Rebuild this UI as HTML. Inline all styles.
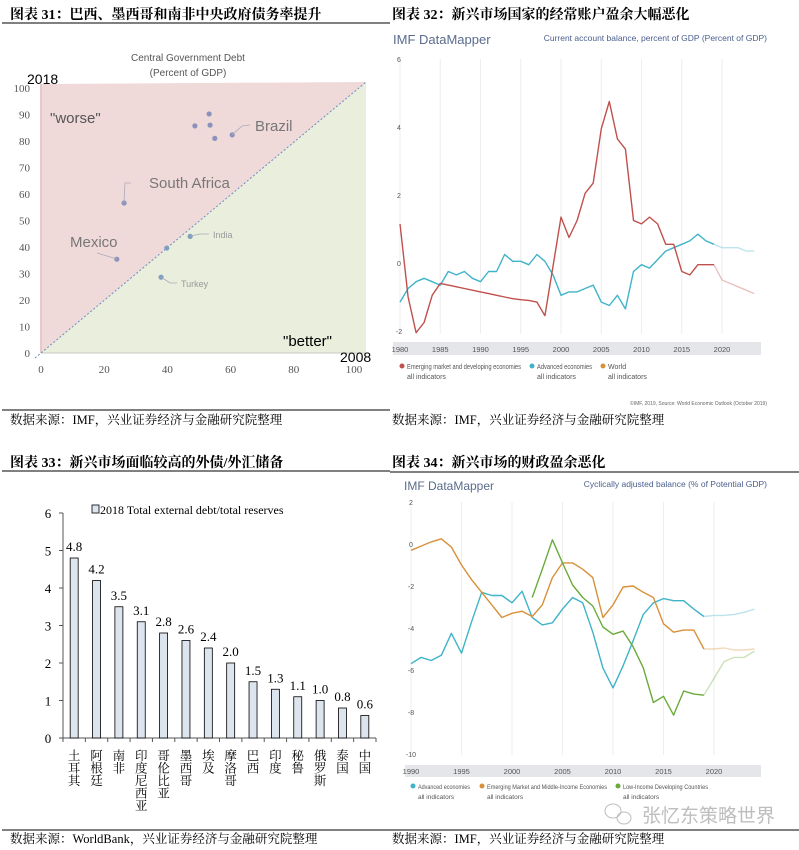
<!DOCTYPE html>
<html><head><meta charset="utf-8">
<style>
html,body{margin:0;padding:0;background:#fff;}
svg{display:block;font-family:"Liberation Sans","Noto Sans CJK SC",sans-serif;}
.ttl{font-family:"Liberation Serif","Noto Serif CJK SC",serif;font-weight:bold;font-size:14px;fill:#000;}
.src{font-family:"Liberation Serif","Noto Serif CJK SC",serif;font-size:12.5px;fill:#000;}
</style></head>
<body>
<svg id="root" width="799" height="850" viewBox="0 0 799 850" xmlns="http://www.w3.org/2000/svg">
<!-- Chart 31 -->
<g>
<text class="ttl" x="10" y="19">图表 31：巴西、墨西哥和南非中央政府债务率提升</text>
<line x1="2" y1="23" x2="390" y2="23" stroke="#000" stroke-width="1"/>
<polygon points="41,353 41,84 366,82" fill="#f0d9d9"/>
<polygon points="41,353 366,82 366,353" fill="#e9eedd"/>
<line x1="41" y1="84" x2="41" y2="353" stroke="#e8c8c8" stroke-width="2"/>
<line x1="41" y1="353" x2="366" y2="353" stroke="#c8c8c8" stroke-width="1"/>
<line x1="35" y1="358" x2="366" y2="82" stroke="#6a8fc0" stroke-width="1" stroke-dasharray="2,2"/>
<text x="188" y="61" font-size="10" fill="#555" text-anchor="middle">Central Government Debt</text>
<text x="188" y="76" font-size="10" fill="#555" text-anchor="middle">(Percent of GDP)</text>
<text x="27" y="84" font-size="14" fill="#000">2018</text>
<text x="340" y="362" font-size="14" fill="#000">2008</text>
<text x="50" y="123" font-size="15" fill="#555">"worse"</text>
<text x="283" y="346" font-size="15" fill="#000">"better"</text>
<g id="c31axes"></g>
<g id="c31pts"></g>
<text x="255" y="131" font-size="15" fill="#777">Brazil</text>
<text x="149" y="188" font-size="15" fill="#777">South Africa</text>
<text x="70" y="247" font-size="15" fill="#777">Mexico</text>
<text x="213" y="238" font-size="9" fill="#999">India</text>
<text x="181" y="287" font-size="9" fill="#999">Turkey</text>
<polyline points="232,135 242,126 250,125" fill="none" stroke="#aab" stroke-width="0.8"/>
<polyline points="124,203 125,183 131,183" fill="none" stroke="#aab" stroke-width="0.8"/>
<polyline points="117,259 97,253" fill="none" stroke="#aab" stroke-width="0.8"/>
<polyline points="190,236 200,234 209,234" fill="none" stroke="#aab" stroke-width="0.8"/>
<polyline points="161,277 170,283 177,283" fill="none" stroke="#aab" stroke-width="0.8"/>
<line x1="2" y1="410" x2="390" y2="410" stroke="#000"/>
<text class="src" x="10" y="424">数据来源：IMF，兴业证券经济与金融研究院整理</text>
</g>

<!-- Chart 32 -->
<g>
<text class="ttl" x="392" y="19">图表 32：新兴市场国家的经常账户盈余大幅恶化</text>
<text x="393" y="44" font-size="13" fill="#5a6b8c">IMF DataMapper</text>
<text x="767" y="41" font-size="8.5" fill="#4a5e8e" text-anchor="end">Current account balance, percent of GDP (Percent of GDP)</text>
<rect x="393" y="342" width="368" height="13" fill="#e4e6ea"/>
<g id="c32grid"></g><g id="c32lines"></g>
<circle cx="402" cy="366" r="2.5" fill="#c0504d"/><text x="407" y="369" font-size="7" fill="#555" textLength="114" lengthAdjust="spacingAndGlyphs">Emerging market and developing economies</text><text x="407" y="379" font-size="7" fill="#555">all indicators</text>
<circle cx="532" cy="366" r="2.5" fill="#3fb3c8"/><text x="537" y="369" font-size="7" fill="#555" textLength="55" lengthAdjust="spacingAndGlyphs">Advanced economies</text><text x="537" y="379" font-size="7" fill="#555">all indicators</text>
<circle cx="603" cy="366" r="2.5" fill="#d8913a"/><text x="608" y="369" font-size="7" fill="#555">World</text><text x="608" y="379" font-size="7" fill="#555">all indicators</text>
<text x="767" y="405" font-size="5" fill="#666" text-anchor="end">©IMF, 2019, Source: World Economic Outlook (October 2019)</text>
<text class="src" x="392" y="424">数据来源：IMF，兴业证券经济与金融研究院整理</text>
</g>

<!-- Chart 33 -->
<g>
<text class="ttl" x="10" y="467">图表 33：新兴市场面临较高的外债/外汇储备</text>
<line x1="2" y1="471" x2="390" y2="471" stroke="#000"/>
<rect x="92" y="505" width="7" height="8" fill="#dce4ee" stroke="#000" stroke-width="0.8"/>
<text x="100" y="514" font-size="12" font-family="Liberation Serif, serif" fill="#000">2018 Total external debt/total reserves</text>
<g id="c33"></g>
<line x1="2" y1="830" x2="390" y2="830" stroke="#000"/>
<text class="src" x="10" y="843">数据来源：WorldBank，兴业证券经济与金融研究院整理</text>
</g>

<!-- Chart 34 -->
<g>
<text class="ttl" x="392" y="467">图表 34：新兴市场的财政盈余恶化</text>
<line x1="390" y1="472" x2="799" y2="472" stroke="#000"/>
<text x="404" y="490" font-size="12" fill="#5a6b8c">IMF DataMapper</text>
<text x="767" y="487" font-size="8.5" fill="#4a5e8e" text-anchor="end">Cyclically adjusted balance (% of Potential GDP)</text>
<rect x="405" y="765" width="356" height="12" fill="#e4e6ea"/>
<g id="c34grid"></g><g id="c34lines"></g>
<circle cx="413" cy="786" r="2.5" fill="#3fb3c8"/><text x="418" y="789" font-size="6.5" fill="#555" textLength="52" lengthAdjust="spacingAndGlyphs">Advanced economies</text><text x="418" y="799" font-size="6.5" fill="#555">all indicators</text>
<circle cx="482" cy="786" r="2.5" fill="#d8913a"/><text x="487" y="789" font-size="6.5" fill="#555" textLength="120" lengthAdjust="spacingAndGlyphs">Emerging Market and Middle-Income Economies</text><text x="487" y="799" font-size="6.5" fill="#555">all indicators</text>
<circle cx="618" cy="786" r="2.5" fill="#6aaa3a"/><text x="623" y="789" font-size="6.5" fill="#555" textLength="85" lengthAdjust="spacingAndGlyphs">Low-Income Developing Countries</text><text x="623" y="799" font-size="6.5" fill="#555">all indicators</text>
<g opacity="0.55">
<ellipse cx="613" cy="811" rx="8" ry="7" fill="none" stroke="#888"/>
<ellipse cx="624" cy="818" rx="7" ry="6" fill="none" stroke="#888"/>
<text x="642" y="822" font-size="19" fill="#888" font-family="Noto Sans CJK SC, sans-serif">张忆东策略世界</text>
</g>
<line x1="390" y1="830" x2="799" y2="830" stroke="#000"/>
<text class="src" x="392" y="843">数据来源：IMF，兴业证券经济与金融研究院整理</text>
</g>
</svg>
<script>
// ---------- Chart 31 data ----------
const c31DebtX2008 = [48.7, 53.2, 53.5, 55, 60.5, 26.3, 24, 39.8, 47.2, 38];
const c31DebtY2018 = [85.7, 90.2, 86, 81, 82.3, 56.6, 35.4, 39.6, 44, 28.6];
const c31PointNames = ['brazil-point-1','brazil-point-2','brazil-point-3','brazil-point-4','brazil-point-5','south-africa-point','mexico-point','point-40','india-point','turkey-point'];
const c31Ticks = [0,10,20,30,40,50,60,70,80,90,100];
const c31XTicks = [0,20,40,60,80,100];
// ---------- Chart 32 data ----------
const c32Years = [];
for (let y = 1980; y <= 2024; y++) c32Years.push(y);
const c32Emerging = [1.15,-1.0,-2.05,-1.75,-0.95,-0.6,-0.65,-0.7,-0.75,-0.8,-0.85,-0.9,-0.95,-1.0,-1.05,-1.08,-1.1,-1.15,-1.55,-0.1,1.35,0.75,1.25,2.05,2.35,3.95,4.75,3.65,3.35,1.25,1.15,1.35,1.15,0.55,0.55,-0.25,-0.35,-0.05,-0.05,-0.05,-0.5,-0.6,-0.7,-0.8,-0.9];
const c32Advanced = [-1.15,-0.75,-0.55,-0.45,-0.55,-0.65,-0.25,-0.35,-0.25,-0.45,-0.55,-0.25,-0.25,0.25,0.05,0.05,-0.05,0.25,0.05,-0.35,-0.95,-0.85,-0.85,-0.75,-0.65,-1.15,-1.25,-0.95,-1.35,-0.25,-0.05,-0.15,0.1,0.35,0.45,0.55,0.65,0.85,0.65,0.55,0.45,0.45,0.45,0.35,0.35];
const c32YTicks = [6,4,2,0,-2];
const c32XTicks = [1980,1985,1990,1995,2000,2005,2010,2015,2020];
// ---------- Chart 33 data ----------
const c33Countries = ['土耳其','阿根廷','南非','印度尼西亚','哥伦比亚','墨西哥','埃及','摩洛哥','巴西','印度','秘鲁','俄罗斯','泰国','中国'];
const c33Values = [4.8,4.2,3.5,3.1,2.8,2.6,2.4,2.0,1.5,1.3,1.1,1.0,0.8,0.6];
const c33YTicks = [0,1,2,3,4,5,6];
// ---------- Chart 34 data ----------
const c34Years = [];
for (let y = 1990; y <= 2024; y++) c34Years.push(y);
const c34Advanced = [-5.7,-5.4,-5.55,-5.3,-4.25,-5.2,-3.7,-2.3,-2.45,-2.45,-2.8,-2.25,-3.5,-3.85,-3.75,-3.1,-2.55,-2.8,-4.2,-5.9,-6.85,-5.8,-4.6,-3.35,-2.8,-2.6,-2.7,-2.7,-3.1,-3.45,-3.4,-3.4,-3.35,-3.25,-3.1];
const c34Emerging = [-0.3,-0.1,0.1,0.25,-0.15,-1.0,-1.7,-2.3,-2.9,-3.5,-3.3,-3.2,-3.45,-2.9,-1.6,-0.9,-0.9,-1.2,-1.6,-3.5,-2.9,-2.05,-2.0,-2.3,-2.55,-3.8,-4.2,-4.1,-4.1,-5.0,-5.0,-4.95,-5.05,-5.05,-5.0];
const c34LowYears = [2002,2003,2004,2005,2006,2007,2008,2009,2010,2011,2012,2013,2014,2015,2016,2017,2018,2019,2020,2021,2022,2023,2024];
const c34LowIncome = [-2.55,-1.2,0.2,-0.9,-1.95,-2.55,-2.95,-3.95,-4.3,-4.15,-4.9,-5.9,-7.55,-7.25,-8.15,-7.0,-7.15,-7.2,-6.4,-5.6,-5.4,-5.4,-5.1];
const c34YTicks = [2,0,-2,-4,-6,-8,-10];
const c34XTicks = [1990,1995,2000,2005,2010,2015,2020];

const NS = 'http://www.w3.org/2000/svg';
function mk(tag, attrs, parent, txt) {
  const e = document.createElementNS(NS, tag);
  for (const k in attrs) e.setAttribute(k, attrs[k]);
  if (txt !== undefined) e.textContent = txt;
  parent.appendChild(e);
  return e;
}

// ----- Chart 31 -----
const x31 = v => 41 + v * 3.16;
const y31 = v => 353 - v * 2.65;
const a31 = document.getElementById('c31axes');
c31Ticks.forEach(t => {
  const e = mk('text', {x: 30, y: y31(t) + 4, 'font-size': 11, fill: '#555', 'text-anchor': 'end', 'font-family': 'Liberation Serif, serif'}, a31, String(t));
  
  
});
c31XTicks.forEach(t => {
  const e = mk('text', {x: x31(t) - (t === 100 ? 3 : 0), y: 373, 'font-size': 11, fill: '#555', 'text-anchor': 'middle', 'font-family': 'Liberation Serif, serif'}, a31, String(t));
  
  
});
const p31 = document.getElementById('c31pts');
c31DebtX2008.forEach((v, i) => {
  const c = mk('circle', {cx: x31(v), cy: y31(c31DebtY2018[i]), r: 2.6, fill: i >= 7 ? '#7f9ec0' : '#8b93bd'}, p31);
  
  
});

// ----- Line chart helper -----
function drawLines(gridG, lineG, years, x, y, yTop, yBot, series, splitYear) {
  series.forEach(s => {
    const solid = [], proj = [];
    s.yrs.forEach((yr, i) => {
      const pt = x(yr).toFixed(1) + ',' + y(s.vals[i]).toFixed(1);
      if (yr <= splitYear) solid.push(pt);
      if (yr >= splitYear) proj.push(pt);
    });
    const l = mk('polyline', {points: solid.join(' '), fill: 'none', stroke: s.color, 'stroke-width': 1.4, 'stroke-linejoin': 'round'}, lineG);
    
    
    if (proj.length > 1) {
      const p = mk('polyline', {points: proj.join(' '), fill: 'none', stroke: s.color, 'stroke-width': 1.4, opacity: 0.35}, lineG);
      
      
    }
  });
}

// ----- Chart 32 -----
const x32 = yr => 400 + (yr - 1980) * 8.05;
const y32 = v => 263 - v * 34;
const g32 = document.getElementById('c32grid');
c32XTicks.forEach(t => {
  mk('line', {x1: x32(t), y1: 59, x2: x32(t), y2: 334, stroke: '#eeeeee', 'stroke-width': 1}, g32);
  const e = mk('text', {x: x32(t), y: 352, 'font-size': 7.5, fill: '#555', 'text-anchor': 'middle'}, g32, String(t));
  
  
});
c32YTicks.forEach(t => {
  const e = mk('text', {x: 399, y: y32(t) + 3, 'font-size': 7, fill: '#555', 'text-anchor': 'middle'}, g32, String(t));
  
  
});
drawLines(g32, document.getElementById('c32lines'), c32Years, x32, y32, 59, 334, [
  {yrs: c32Years, vals: c32Advanced, color: '#3fb3c8', name: 'advanced-economies-line'},
  {yrs: c32Years, vals: c32Emerging, color: '#c0504d', name: 'emerging-economies-line'}
], 2019);

// ----- Chart 33 -----
const g33 = document.getElementById('c33');
const y33 = v => 738 - v * 37.5;
const bandW = (376 - 63) / c33Countries.length;
mk('line', {x1: 63, y1: 513, x2: 63, y2: 738, stroke: '#555'}, g33);
mk('line', {x1: 63, y1: 738, x2: 376, y2: 738, stroke: '#555'}, g33);
c33YTicks.forEach(t => {
  mk('line', {x1: 59, y1: y33(t), x2: 63, y2: y33(t), stroke: '#555'}, g33);
  const e = mk('text', {x: 48, y: y33(t) + 5, 'font-size': 13, 'text-anchor': 'middle', 'font-family': 'Liberation Serif, serif'}, g33, String(t));
  
  
});
for (let i = 0; i <= c33Countries.length; i++) {
  mk('line', {x1: 63 + i * bandW, y1: 738, x2: 63 + i * bandW, y2: 742, stroke: '#555'}, g33);
}
c33Values.forEach((v, i) => {
  const cx = 63 + (i + 0.5) * bandW;
  const b = mk('rect', {x: cx - 4, y: y33(v), width: 8, height: 738 - y33(v), fill: '#dce4ee', stroke: '#000', 'stroke-width': 0.8}, g33);
  
  
  const l = mk('text', {x: cx, y: y33(v) - 7, 'font-size': 13, 'text-anchor': 'middle', 'font-family': 'Liberation Serif, serif'}, g33, v.toFixed(1));
  
  
  const c = mk('text', {x: cx, y: 749, 'font-size': 12.5, 'text-anchor': 'start', style: 'writing-mode:vertical-rl;', 'font-family': 'Noto Serif CJK SC, serif'}, g33, c33Countries[i]);
  
  
});

// ----- Chart 34 -----
const x34 = yr => 411 + (yr - 1990) * 10.1;
const y34 = v => 544 - v * 21;
const g34 = document.getElementById('c34grid');
c34XTicks.forEach(t => {
  mk('line', {x1: x34(t), y1: 502, x2: x34(t), y2: 755, stroke: '#eeeeee', 'stroke-width': 1}, g34);
  const e = mk('text', {x: x34(t), y: 774, 'font-size': 7.5, fill: '#555', 'text-anchor': 'middle'}, g34, String(t));
  
  
});
c34YTicks.forEach(t => {
  const e = mk('text', {x: 411, y: y34(t) + 3, 'font-size': 7, fill: '#555', 'text-anchor': 'middle'}, g34, String(t));
  
  
});
drawLines(g34, document.getElementById('c34lines'), c34Years, x34, y34, 502, 754, [
  {yrs: c34Years, vals: c34Advanced, color: '#3fb3c8', name: 'advanced-balance-line'},
  {yrs: c34Years, vals: c34Emerging, color: '#d8913a', name: 'emerging-balance-line'},
  {yrs: c34LowYears, vals: c34LowIncome, color: '#6aaa3a', name: 'low-income-balance-line'}
], 2019);
</script>
</body></html>
